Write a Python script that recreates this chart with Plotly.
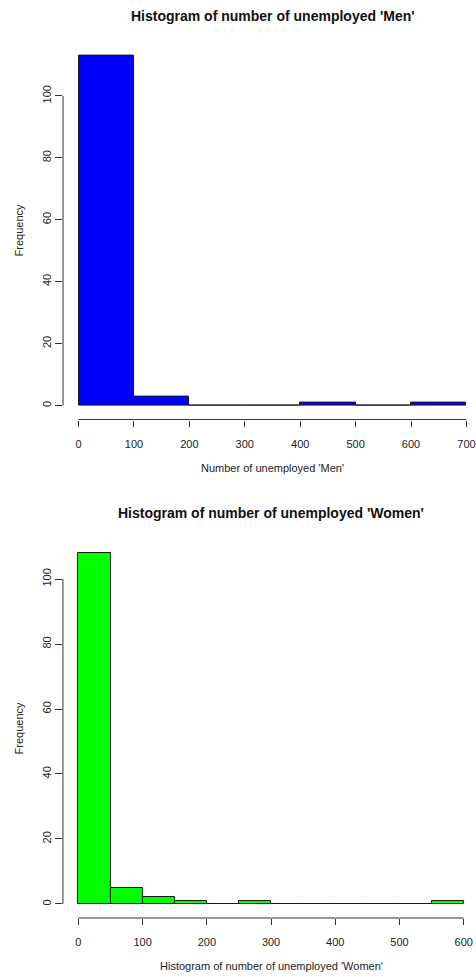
import plotly.graph_objects as go

W, H = 476, 977

# ---- data: histogram breaks and counts ----
men_breaks = [0, 100, 200, 300, 400, 500, 600, 700]
men_counts = [113, 3, 0, 0, 1, 0, 1]
women_breaks = [0, 50, 100, 150, 200, 250, 300, 350, 400, 450, 500, 550, 600]
women_counts = [108, 5, 2, 1, 0, 1, 0, 0, 0, 0, 0, 1]

men_xticks = [0, 100, 200, 300, 400, 500, 600, 700]
women_xticks = [0, 100, 200, 300, 400, 500, 600]
freq_ticks = [0, 20, 40, 60, 80, 100]

FONT = "Liberation Sans, Arial, sans-serif"
TXT = "#222222"
EDGE = "#1a1a1a"

# pixel geometry of each plot region (left, right, top, bottom); right edge runs past the page
panels = [
    dict(breaks=men_breaks, counts=men_counts, xticks=men_xticks, color="#0000FF",
         box=(63.3, 484.0, 41.6, 419.5),
         title="Histogram of number of unemployed 'Men'", title_y=16.5,
         xlab="Number of unemployed 'Men'", xlab_y=468.3),
    dict(breaks=women_breaks, counts=women_counts, xticks=women_xticks, color="#00FF00",
         box=(63.2, 481.2, 539.0, 918.0),
         title="Histogram of number of unemployed 'Women'", title_y=513.3,
         xlab="Histogram of number of unemployed 'Women'", xlab_y=966.0),
]

fig = go.Figure()
annotations = []
shapes = []

for i, p in enumerate(panels, start=1):
    xa = "x" if i == 1 else f"x{i}"
    ya = "y" if i == 1 else f"y{i}"
    br, ct = p["breaks"], p["counts"]
    mids = [(a + b) / 2 for a, b in zip(br[:-1], br[1:])]
    widths = [b - a for a, b in zip(br[:-1], br[1:])]

    fig.add_trace(go.Bar(
        x=mids, y=ct, width=widths, xaxis=xa, yaxis=ya,
        marker=dict(color=p["color"], line=dict(color=EDGE, width=1)),
        showlegend=False, hoverinfo="x+y",
    ))

    left, right, top, bottom = p["box"]
    lo, hi = br[0], br[-1]
    span = hi - lo
    full = [lo - 0.04 * span, hi + 0.04 * span]
    vis_right = full[0] + (full[1] - full[0]) * (W - left) / (right - left)
    ymax = max(ct)
    yr = [-0.04 * ymax, ymax * 1.04]

    axis_font = dict(family=FONT, size=11, color=TXT)
    fig.layout[f"xaxis{'' if i == 1 else i}"] = dict(
        domain=[left / W, 1.0], range=[full[0], vis_right], anchor=ya,
        showgrid=False, zeroline=False, showline=False,
        tickmode="array", tickvals=p["xticks"], ticktext=[str(v) for v in p["xticks"]],
        ticks="outside", ticklen=6, tickwidth=1, tickcolor="#333333",
        tickfont=axis_font, ticklabelstandoff=8, ticklabeloverflow="allow",
        fixedrange=True,
    )
    fig.layout[f"yaxis{'' if i == 1 else i}"] = dict(
        domain=[1 - bottom / H, 1 - top / H], range=yr, anchor=xa,
        showgrid=False, zeroline=False, showline=False,
        tickmode="array", tickvals=freq_ticks, ticktext=[str(v) for v in freq_ticks],
        ticks="outside", ticklen=7, tickwidth=1, tickcolor="#333333",
        tickangle=-90, tickfont=axis_font, fixedrange=True,
    )

    # R-style axis lines spanning only the tick range
    shapes.append(dict(type="line", xref=f"{xa} domain", yref=ya, x0=0, x1=0,
                       y0=freq_ticks[0], y1=freq_ticks[-1], line=dict(color="#333333", width=1)))
    shapes.append(dict(type="line", xref=xa, yref=f"{ya} domain", x0=p["xticks"][0],
                       x1=p["xticks"][-1], y0=0, y1=0, line=dict(color="#333333", width=1)))

    cx = (left + right) / 2 / W
    annotations.append(dict(text=f"<b>{p['title']}</b>", x=cx, y=1 - p["title_y"] / H,
                            xref="paper", yref="paper", showarrow=False,
                            xanchor="center", yanchor="middle",
                            font=dict(family=FONT, size=14, color="#111111")))
    annotations.append(dict(text=p["xlab"], x=cx, y=1 - p["xlab_y"] / H,
                            xref="paper", yref="paper", showarrow=False,
                            xanchor="center", yanchor="middle",
                            font=dict(family=FONT, size=11, color=TXT)))
    annotations.append(dict(text="Frequency", x=19 / W, y=1 - (top + bottom) / 2 / H,
                            xref="paper", yref="paper", showarrow=False, textangle=-90,
                            xanchor="center", yanchor="middle",
                            font=dict(family=FONT, size=11, color=TXT)))

fig.update_layout(
    width=W, height=H, margin=dict(l=0, r=0, t=0, b=0),
    paper_bgcolor="white", plot_bgcolor="white",
    bargap=0, annotations=annotations, shapes=shapes,
)

fig.write_html("out.html", config={"displayModeBar": False})
